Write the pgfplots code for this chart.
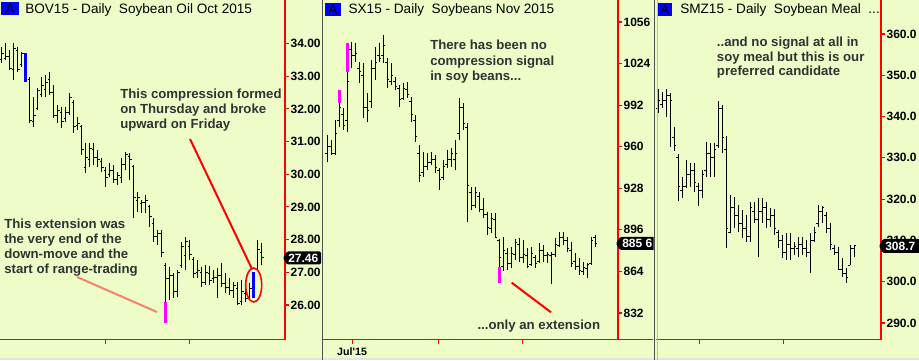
\documentclass[border=0pt]{standalone}
\usepackage{fontspec}
\setmainfont{Liberation Sans}
\usepackage{pgfplots}
\pgfplotsset{compat=1.18}
\usepackage{pgfplotstable}

\definecolor{bg}{RGB}{238,252,200}
\definecolor{annocol}{RGB}{50,50,50}
\definecolor{salm}{RGB}{245,130,110}
\definecolor{sep}{RGB}{80,80,80}
\definecolor{pinkbar}{RGB}{255,0,255}
\definecolor{bluebar}{RGB}{0,0,255}

\pgfdeclareplotmark{ctick}{\pgfpathmoveto{\pgfpointorigin}\pgfpathlineto{\pgfqpoint{1.6pt}{0pt}}\pgfusepathqstroke}
\pgfdeclareplotmark{otick}{\pgfpathmoveto{\pgfqpoint{-1.6pt}{0pt}}\pgfpathlineto{\pgfpointorigin}\pgfusepathqstroke}
\pgfdeclareplotmark{nothing}{}

% Soybean Oil Oct 2015 (BOV15)
\pgfplotstableread{
i h l o c
0 33.89 33.40 33.50 33.70
1 34.02 33.50 33.55 33.60
2 33.80 33.19 33.60 33.25
3 34.02 32.88 33.20 33.85
4 33.89 33.13 33.80 33.20
5 33.74 33.28 33.35 33.70
7 32.98 31.57 32.90 31.65
8 32.36 31.45 31.60 31.80
9 32.64 31.97 32.00 32.55
10 32.98 32.36 32.45 32.70
11 33.04 32.36 32.60 32.80
12 33.13 32.42 32.90 32.50
13 32.73 31.72 32.50 31.80
14 32.12 31.57 31.80 31.95
15 32.06 31.42 31.90 31.60
16 32.06 31.60 31.70 31.90
17 32.49 31.81 31.90 32.35
18 32.27 31.26 32.20 31.45
19 31.75 31.35 31.50 31.55
20 31.51 30.59 31.45 30.75
21 30.96 30.04 30.20 30.50
22 30.96 30.22 30.45 30.80
23 30.96 30.28 30.75 30.50
24 30.75 30.22 30.50 30.45
25 30.50 30.07 30.40 30.20
26 30.22 29.61 30.10 29.90
27 30.34 29.92 30.00 30.10
28 30.28 29.73 30.10 29.85
29 30.07 29.67 29.85 29.95
30 30.50 29.73 29.90 30.30
31 30.68 30.13 30.30 30.60
32 30.65 29.82 30.55 30.45
33 30.28 28.66 30.25 29.30
34 29.46 28.85 29.20 29.30
35 29.21 28.82 29.10 29.15
36 29.37 28.82 29.15 29.20
37 29.06 28.39 29.00 28.70
38 28.66 27.93 28.50 28.10
39 28.29 27.84 28.10 28.20
40 28.29 27.47 28.20 27.60
41 27.29 26.09 27.20 26.80
42 27.16 26.15 26.80 26.90
43 26.98 26.21 26.90 26.40
44 27.07 26.25 26.40 27.00
45 27.93 27.13 27.20 27.80
46 28.08 27.07 27.50 27.95
47 27.99 27.38 27.80 27.55
48 27.47 26.83 27.40 26.95
49 27.38 26.83 27.00 27.05
50 27.16 26.55 27.00 26.70
51 27.22 26.61 26.70 27.00
52 27.19 26.61 26.95 26.75
53 27.07 26.67 26.80 26.85
54 27.13 26.21 26.85 26.90
55 27.29 26.55 26.90 26.65
56 26.98 26.37 26.65 26.55
57 26.83 26.31 26.55 26.45
58 26.70 26.21 26.45 26.60
59 26.70 26.00 26.50 26.05
60 26.77 26.00 26.10 26.40
61 26.52 26.09 26.35 26.20
62 26.67 26.21 26.20 26.50
64 27.99 27.07 27.10 27.70
65 27.90 27.22 27.60 27.46
}\tabA
\pgfplotstableread{
i lo hi
6 32.82 33.71
63 26.21 27.01
}\blueA
\pgfplotstableread{
i lo hi
41 25.45 26.09
}\pinkA

% Soybeans Nov 2015 (SX15)
\pgfplotstableread{
i h l o c
0 969.0 948.2 955 960
1 965.2 953.6 960 955
2 980.6 953.6 955 970
3 993.6 975.2 980 990
4 989.8 972.9 985 976
5 1017.5 971.3 980 1010
6 1040.6 1020.6 1035 1030
7 1039.8 1025.2 1030 1032
8 1025.2 1009.0 1020 1018
9 1024.4 982.1 1015 990
10 1001.3 979.0 990 988
11 1026.7 989.8 995 1020
12 1036.8 1011.4 1020 1025
13 1039.8 1025.2 1030 1028
14 1046.0 1024.4 1030 1038
15 1028.3 1005.2 1025 1012
16 1024.4 1007.5 1010 1015
17 1013.7 1003.7 1010 1006
18 1007.5 990.6 1005 996
19 1009.0 996.0 997 1005
20 1009.8 997.5 1004 1000
21 998.3 979.0 995 985
22 984.4 963.6 980 968
23 961.3 932.8 955 938
24 955.9 936.7 940 945
25 955.2 942.1 945 948
26 955.9 945.9 948 950
27 953.6 939.8 950 944
28 943.6 926.7 942 935
29 949.8 934.4 936 945
30 957.5 943.6 946 950
31 959.0 944.4 950 955
32 965.2 942.1 950 955
33 997.5 965.2 970 990
34 993.6 972.9 990 978
35 978.3 902.0 975 930
36 929.0 911.3 925 915
37 929.0 912.8 915 925
38 925.1 909.7 922 912
39 920.5 905.1 912 908
40 909.7 892.0 908 898
41 909.0 893.6 897 905
42 909.0 889.7 904 890
43 888.9 867.4 888 875
44 890.5 864.3 868 880
45 882.0 865.1 878 870
46 882.8 866.6 870 878
47 888.9 872.8 877 886
48 889.7 871.2 885 875
49 888.2 870.5 875 877
50 882.0 866.6 876 868
51 882.8 868.9 869 878
52 876.6 866.6 875 870
53 885.9 870.5 872 880
54 884.3 871.2 880 876
55 878.9 870.5 876 877
56 878.9 854.3 876 877
57 889.7 875.1 877 885
58 894.3 882.8 884 890
59 894.3 884.3 890 888
60 890.5 878.9 888 882
61 886.6 867.4 880 870
62 878.2 865.1 872 868
63 874.3 861.2 868 865
64 871.2 861.2 864 867
65 870.5 858.9 866 869
66 890.5 868.9 870 888
67 892.0 882.8 890 885.6
}\tabB
\pgfplotstableread{
i lo hi
3 993.6 1003.7
5 1017.5 1039.8
43 855.1 867.4
}\pinkB

% Soybean Meal Dec 2015 (SMZ15)
\pgfplotstableread{
i h l o c
0 346.7 340.9 342 344
1 346.0 342.1 343 344
2 346.7 339.9 344 345
3 345.7 332.6 345 344
4 337.5 331.7 335 333
5 330.9 319.6 330 323
6 325.4 320.3 322 323
7 329.5 322.7 323 326
8 328.8 322.9 326 327
9 328.8 321.7 327 324
10 323.9 318.3 323 322
11 327.1 320.3 322 326
12 333.8 325.4 327 331
13 333.6 325.4 331 330
14 333.6 325.4 330 332
15 343.8 332.4 333 342
16 342.8 331.2 342 335
17 335.3 308.2 332 313
18 321.0 311.8 312 318
19 320.5 313.0 318 316
20 318.6 312.0 316 314
21 317.4 310.6 314 313
22 316.2 309.6 313 311
23 319.3 309.6 311 318
24 319.3 314.2 317 315
25 320.3 306.0 315 317
26 320.3 314.2 317 318
27 319.3 313.0 318 315
28 317.9 313.3 315 316
29 317.6 311.3 316 313
30 312.5 308.2 312 310
31 311.3 305.7 310 307
32 311.8 305.3 307 309
33 311.8 305.3 309 308
34 309.6 306.5 308 308.5
35 310.8 306.0 308 309
36 310.8 306.5 309 308
37 310.1 306.0 308 307
38 311.8 302.1 307 310
39 313.3 309.6 310 312
40 318.6 313.3 314 317
41 318.3 314.2 317 318
42 316.9 311.8 316 313
43 314.2 307.7 313 309
44 308.9 306.5 308 307
45 308.4 302.8 307 303
46 305.7 301.1 303 302
47 303.3 299.7 302 301
48 308.9 304.0 304 308
49 308.9 306.0 308 308.7
}\tabC

\pgfplotsset{
  ohlc/.style={
    scale only axis, height=254.625pt, anchor=north west,
    axis line style={draw=none},
    tick align=outside, major tick length=3pt,
    tick style={red, line width=0.8pt},
    ytick pos=right, yticklabel pos=right, xtick pos=bottom,
    scaled y ticks=false,
    /pgf/number format/assume math mode=true,
    /pgf/number format/1000 sep={},
    yticklabel style={font=\bfseries\fontsize{9}{10}\selectfont, text=black, inner xsep=1pt},
    xticklabel style={font=\bfseries\fontsize{8}{10}\selectfont, text=black},
  },
  hl/.style={only marks, mark=otick, mark options={line width=0.75pt, black}, forget plot,
    error bars/.cd, y dir=both, y explicit, error mark=none,
    error bar style={line width=0.9pt, black}},
  cl/.style={only marks, mark=ctick, mark options={line width=0.75pt, black}, forget plot},
  colbar/.style={only marks, mark=nothing, forget plot,
    error bars/.cd, y dir=plus, y explicit, error mark=none,
    error bar style={line width=2.2pt, #1}},
}
\tikzset{
  annot/.style={anchor=base west, inner sep=0pt, text=annocol, font=\bfseries\fontsize{9.9}{11.25}\selectfont},
  ttl/.style={anchor=base west, inner sep=0pt, text=black, font=\fontsize{10.2}{12}\selectfont},
  pricetag/.style={anchor=west, inner sep=0pt, text=white, font=\bfseries\fontsize{9}{10}\selectfont},
}

\begin{document}
\begin{tikzpicture}[x=0.75pt,y=0.75pt]
\fill[bg] (0,0) rectangle (919,360);
\fill[gray!22] (0,0) rectangle (919,2.5);

% ---------------- Panel 1 ----------------
\begin{axis}[ohlc, at={(0pt,270pt)}, width=213.75pt,
  xmin=-0.425, xmax=70.825, ymin=24.945, ymax=35.331,
  ytick={26,27,...,34},
  yticklabel style={/pgf/number format/.cd, fixed, fixed zerofill, precision=2},
  xtick={25.9,46.9}, xticklabels={}]
\addplot[hl] table[x=i, y=o, y error plus expr=\thisrow{h}-\thisrow{o}, y error minus expr=\thisrow{o}-\thisrow{l}] \tabA;
\addplot[cl] table[x=i, y=c] \tabA;
\addplot[colbar=bluebar] table[x=i, y=lo, y error expr=\thisrow{hi}-\thisrow{lo}] \blueA;
\addplot[colbar=pinkbar] table[x=i, y=lo, y error expr=\thisrow{hi}-\thisrow{lo}] \pinkA;
\end{axis}

% ---------------- Panel 2 ----------------
\begin{axis}[ohlc, at={(242.25pt,270pt)}, width=221.25pt,
  xmin=-1.075, xmax=72.675, ymin=811.59, ymax=1072.94,
  ytick={832,864,...,1056},
  yticklabel style={/pgf/number format/.cd, fixed, precision=0},
  xtick={6.2,27.9,48.9}, xticklabels={Jul\textquotesingle 15,,}]
\addplot[hl] table[x=i, y=o, y error plus expr=\thisrow{h}-\thisrow{o}, y error minus expr=\thisrow{o}-\thisrow{l}] \tabB;
\addplot[cl] table[x=i, y=c] \tabB;
\addplot[colbar=pinkbar] table[x=i, y=lo, y error expr=\thisrow{hi}-\thisrow{lo}] \pinkB;
\end{axis}

% ---------------- Panel 3 ----------------
\begin{axis}[ohlc, at={(492pt,270pt)}, width=168.75pt,
  xmin=-0.575, xmax=55.675, ymin=286.01, ymax=368.23,
  ytick={290,300,...,360},
  yticklabel style={/pgf/number format/.cd, fixed, fixed zerofill, precision=1},
  xtick={10.2,31.2}, xticklabels={}]
\addplot[hl] table[x=i, y=o, y error plus expr=\thisrow{h}-\thisrow{o}, y error minus expr=\thisrow{o}-\thisrow{l}] \tabC;
\addplot[cl] table[x=i, y=c] \tabC;
\end{axis}

% axis lines
\draw[red, line width=1pt] (0,20.5) -- (285,20.5) (285,20.5) -- (285,360);
\draw[red, line width=1pt] (323,20.5) -- (653,20.5) (618,20.5) -- (618,360);
\draw[red, line width=1pt] (656,20.5) -- (881,20.5) (881,20.5) -- (881,360);

% last price tags
\fill[black, rounded corners=1pt] (283,102) -- (287,108.5) -- (321,108.5) -- (321,95.5) -- (287,95.5) -- cycle;
\node[pricetag] at (288,102) {27.46};
\begin{scope}
\clip (600,0) rectangle (653.5,360);
\fill[black, rounded corners=1pt] (616,116.5) -- (620,123) -- (660,123) -- (660,110) -- (620,110) -- cycle;
\node[pricetag] at (622,116.5) {885 6};
\end{scope}
\fill[black, rounded corners=1pt] (879,114) -- (883,121) -- (920,121) -- (920,107) -- (883,107) -- cycle;
\node[pricetag] at (885,114) {308.7};

% separators
\draw[sep, line width=1.1pt] (322.5,0) -- (322.5,360);
\draw[sep, line width=1.1pt] (654.5,0) -- (654.5,360);
\draw[blue!30, line width=0.7pt] (657,0) -- (657,360);

% titles
\fill[bluebar] (0.5,345) rectangle (19,358.3);
\node[text=black, font=\fontsize{10.2}{12}\selectfont, inner sep=0pt] at (9.8,351.6) {A};
\node[ttl] at (25,346.7) {BOV15 - Daily\ \ Soybean Oil Oct 2015};
\fill[bluebar] (325,344) rectangle (340.7,356.7);
\node[text=black, font=\fontsize{10.2}{12}\selectfont, inner sep=0pt] at (332.9,350.4) {A};
\node[ttl] at (348.3,346.7) {SX15 - Daily\ \ Soybeans Nov 2015};
\fill[bluebar] (658.3,344) rectangle (671.7,356.7);
\node[text=black, font=\fontsize{10.2}{12}\selectfont, inner sep=0pt] at (665,350.4) {A};
\node[ttl] at (680,346.7) {SMZ15 - Daily\ \ Soybean Meal\ \ ...};

% annotations panel 1
\node[annot] at (120,261) {This compression formed};
\node[annot] at (120,246) {on Thursday and broke};
\node[annot] at (120,231) {upward on Friday};
\draw[red, line width=1.5pt] (190,221) -- (252,91);
\draw[red, line width=1.2pt] (253.7,75) ellipse [x radius=8, y radius=17];
\node[annot] at (4,131) {This extension was};
\node[annot] at (4,116) {the very end of the};
\node[annot] at (4,101) {down-move and the};
\node[annot] at (4,86) {start of range-trading};
\draw[salm, line width=1.5pt] (77,83) -- (157,48);

% annotations panel 2
\node[annot] at (430,310) {There has been no};
\node[annot] at (430,294.3) {compression signal};
\node[annot] at (430,279.3) {in soy beans...};
\node[annot] at (477.3,31) {...only an extension};
\draw[red, line width=1.5pt] (511.7,77.3) -- (551,47.7);

% annotations panel 3
\node[annot] at (716.7,313.3) {..and no signal at all in};
\node[annot] at (716.7,298.3) {soy meal but this is our};
\node[annot] at (716.7,284) {preferred candidate};

\pgfresetboundingbox
\path[use as bounding box] (0,0) rectangle (919,360);
\end{tikzpicture}
\end{document}
